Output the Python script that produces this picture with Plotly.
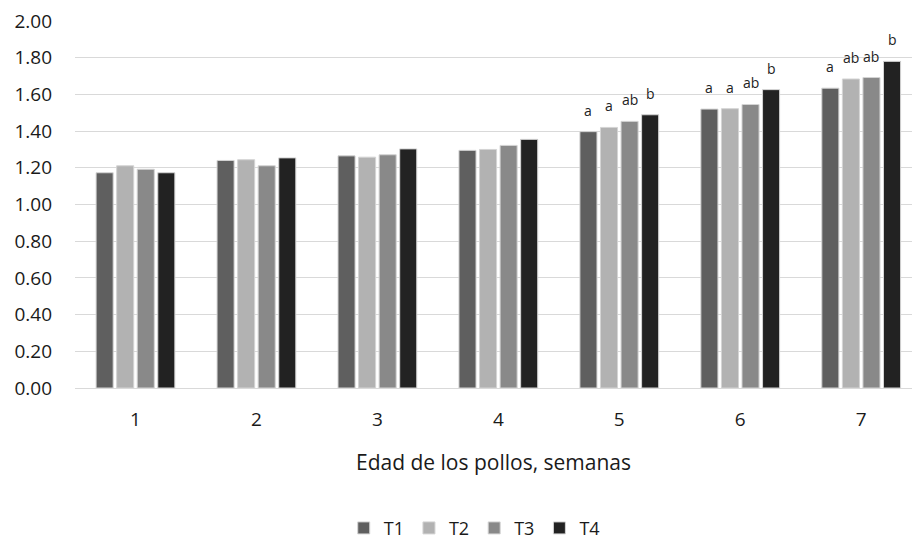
import plotly.graph_objects as go

weeks = [1, 2, 3, 4, 5, 6, 7]
series_names = ["T1", "T2", "T3", "T4"]
T1 = [1.173, 1.240, 1.265, 1.295, 1.397, 1.520, 1.634]
T2 = [1.211, 1.244, 1.258, 1.300, 1.420, 1.522, 1.684]
T3 = [1.192, 1.211, 1.271, 1.322, 1.453, 1.545, 1.692]
T4 = [1.173, 1.254, 1.303, 1.355, 1.489, 1.626, 1.780]
letters = {
    5: ["a", "a", "ab", "b"],
    6: ["a", "a", "ab", "b"],
    7: ["a", "ab", "ab", "b"],
}
y_ticks = [0.0, 0.2, 0.4, 0.6, 0.8, 1.0, 1.2, 1.4, 1.6, 1.8, 2.0]

colors = ["#5f5f5f", "#b2b2b2", "#898989", "#222222"]
values = [T1, T2, T3, T4]
bargap = 0.32
font_family = "'Open Sans', sans-serif"

fig = go.Figure()
for name, vals, c in zip(series_names, values, colors):
    fig.add_trace(go.Bar(
        x=weeks, y=vals, name=name,
        marker=dict(color=c, line=dict(color="#d4d4d4", width=1)),
    ))

slot = (1 - bargap) / len(series_names)
for wk, labs in letters.items():
    idx = weeks.index(wk)
    for i, lab in enumerate(labs):
        fig.add_annotation(
            x=wk + (i - 1.5) * slot, y=values[i][idx], text=lab,
            showarrow=False, yanchor="bottom", yshift=10,
            font=dict(size=14, color="#222222", family=font_family),
        )

fig.update_layout(
    width=912, height=539,
    margin=dict(l=75, r=0, t=21, b=151),
    paper_bgcolor="white", plot_bgcolor="white",
    barmode="group", bargap=bargap, bargroupgap=0.17,
    font=dict(family=font_family, size=18, color="#1a1a1a"),
    showlegend=True,
    legend=dict(orientation="h", xref="container", yref="container",
                x=0.52, xanchor="center", y=0.02, yanchor="middle",
                font=dict(size=18), itemwidth=30, traceorder="normal"),
    xaxis=dict(range=[0.5, 7.42], tickmode="array", tickvals=weeks,
               ticktext=[str(w) for w in weeks], showgrid=False,
               showline=True, linecolor="#d9d9d9", ticks="", ticklabelstandoff=14,
               title=dict(text="Edad de los pollos, semanas", font=dict(size=21), standoff=24),
               tickfont=dict(size=19)),
    yaxis=dict(range=[0, 2.0], tickmode="array", tickvals=y_ticks,
               ticktext=[f"{v:.2f}" for v in y_ticks],
               showgrid=True, gridcolor="#d9d9d9", gridwidth=1,
               zeroline=False, ticks="", ticklabelstandoff=22,
               tickfont=dict(size=19)),
)

fig.write_html("out.html", config={"displayModeBar": False},
               post_script="document.body.style.margin='0';")
